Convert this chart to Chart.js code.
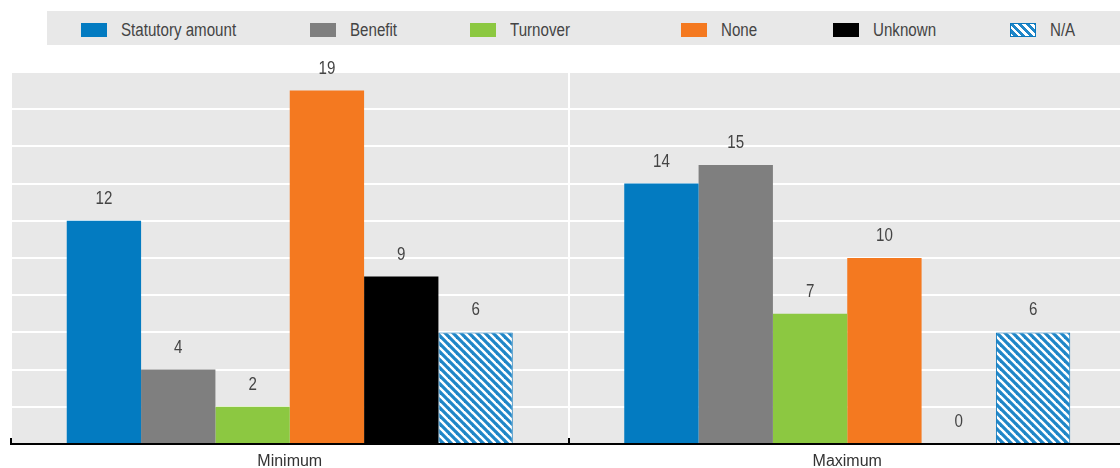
<!DOCTYPE html>
<html lang="en">
<head>
<meta charset="UTF-8">
<title>Minimum and maximum</title>
<script src="https://cdn.jsdelivr.net/npm/chart.js"></script>
<style>
    body {
        margin: 0;
        background: #ffffff;
        font-family: "Liberation Sans", Arial, sans-serif;
    }
    .wrap {
        position: relative;
        width: 1120px;
        height: 468px;
        overflow: hidden;
    }
    #chart {
        position: absolute;
        left: 0;
        top: 0;
    }
    #legend {
        position: absolute;
        left: 47px;
        top: 11px;
        width: 1073px;
        height: 34px;
        background: #e8e8e8;
    }
    .item {
        position: absolute;
        top: 23px;
        height: 14px;
        margin-top: -11px;
        display: flex;
        align-items: center;
        font-size: 18px;
        color: #444444;
        white-space: nowrap;
    }
    .item span.box {
        display: inline-block;
        width: 26px;
        height: 14px;
        margin-right: 14px;
        box-sizing: border-box;
    }
    .item span.txt {
        display: inline-block;
        transform: scaleX(0.84);
        transform-origin: left center;
    }
    /* legend item positions, relative to the grey band */
    .item:nth-child(1) { left: 34px; }
    .item:nth-child(2) { left: 263px; }
    .item:nth-child(3) { left: 423px; }
    .item:nth-child(4) { left: 634px; }
    .item:nth-child(5) { left: 786px; }
    .item:nth-child(6) { left: 963px; }
    .hatch {
        border: 1px solid #0a78be;
        background: repeating-linear-gradient(45deg, #ffffff 0 2px, #1f86c8 2px 5px, #ffffff 5px 5.6px);
    }
</style>
</head>
<body>
<div class="wrap">
    <!-- canvas is a little larger than the frame; the plot runs past the right edge -->
    <canvas id="chart" width="1132" height="480"></canvas>
    <div id="legend"></div>
</div>

<script>
    // categories and series values
    const categories = ['Minimum', 'Maximum'];
    const seriesNames = ['Statutory amount', 'Benefit', 'Turnover', 'None', 'Unknown', 'N/A'];
    const statutoryAmount = [12, 14];
    const benefit = [4, 15];
    const turnover = [2, 7];
    const none = [19, 10];
    const unknown = [9, 0];
    const notApplicable = [6, 6];

    const colors = ['#037bc1', '#7f7f7f', '#8cc841', '#f47920', '#000000'];

    // hatched fill for N/A
    function makeHatch() {
        const c = document.createElement('canvas');
        c.width = 8;
        c.height = 8;
        const g = c.getContext('2d');
        g.fillStyle = '#ffffff';
        g.fillRect(0, 0, 8, 8);
        g.strokeStyle = '#1f86c8';
        g.lineWidth = 3.2;
        [-8, 0, 8].forEach(k => {
            g.beginPath();
            g.moveTo(k - 1, -1);
            g.lineTo(k + 9, 9);
            g.stroke();
        });
        return document.getElementById('chart').getContext('2d').createPattern(c, 'repeat');
    }
    const hatch = makeHatch();

    const values = [statutoryAmount, benefit, turnover, none, unknown, notApplicable];
    const datasets = seriesNames.map((name, i) => ({
        label: name,
        data: values[i],
        backgroundColor: i < 5 ? colors[i] : hatch,
        borderColor: i < 5 ? colors[i] : '#0a78be',
        borderWidth: i < 5 ? 0 : 1,
        categoryPercentage: 0.8,
        barPercentage: 1.0
    }));

    // grey plot background
    const plotBg = {
        id: 'plotBg',
        beforeDraw(chart) {
            const { ctx, chartArea: a } = chart;
            ctx.save();
            ctx.fillStyle = '#e8e8e8';
            ctx.fillRect(a.left, a.top, a.right - a.left, a.bottom - a.top);
            ctx.restore();
        }
    };

    // value labels above the bars + small inner ticks on the x axis
    const valueLabels = {
        id: 'valueLabels',
        afterDatasetsDraw(chart) {
            const ctx = chart.ctx;
            ctx.save();
            ctx.font = '18px "Liberation Sans", Arial, sans-serif';
            ctx.fillStyle = '#444444';
            ctx.textAlign = 'center';
            ctx.textBaseline = 'middle';
            chart.data.datasets.forEach((ds, i) => {
                chart.getDatasetMeta(i).data.forEach((bar, j) => {
                    ctx.save();
                    ctx.translate(bar.x, bar.y - 22);
                    ctx.scale(0.84, 1);
                    ctx.fillText(String(ds.data[j]), 0, 0);
                    ctx.restore();
                });
            });
            const x = chart.scales.x;
            const half = (x.getPixelForValue(1) - x.getPixelForValue(0)) / 2;
            ctx.strokeStyle = '#000000';
            ctx.lineWidth = 2;
            categories.forEach((c, j) => {
                const px = Math.round(x.getPixelForValue(j) - half);
                ctx.beginPath();
                ctx.moveTo(px, chart.chartArea.bottom);
                ctx.lineTo(px, chart.chartArea.bottom - 6);
                ctx.stroke();
            });
            ctx.restore();
        }
    };

    const chart = new Chart(document.getElementById('chart'), {
        type: 'bar',
        data: { labels: categories, datasets: datasets },
        options: {
            responsive: false,
            animation: false,
            layout: { padding: { top: 72, left: 11, right: 6, bottom: 0 } },
            plugins: {
                legend: { display: false },
                tooltip: { enabled: false }
            },
            scales: {
                x: {
                    grid: {
                        offset: true,
                        color: '#ffffff',
                        lineWidth: 2,
                        drawTicks: false
                    },
                    border: { display: true, color: '#000000', width: 2 },
                    ticks: {
                        padding: 10,
                        color: '#333333',
                        font: { family: '"Liberation Sans", Arial, sans-serif', size: 16, lineHeight: 1 }
                    }
                },
                y: {
                    min: 0,
                    max: 20,
                    ticks: { display: false, stepSize: 2 },
                    grid: { color: '#ffffff', lineWidth: 2, drawTicks: false },
                    border: { display: false }
                }
            }
        },
        plugins: [plotBg, valueLabels]
    });

    // HTML legend built from the chart datasets
    const legend = document.getElementById('legend');
    chart.data.datasets.forEach((ds, i) => {
        const item = document.createElement('div');
        item.className = 'item';
        const box = document.createElement('span');
        box.className = 'box' + (i === 5 ? ' hatch' : '');
        if (i < 5) box.style.background = colors[i];
        const txt = document.createElement('span');
        txt.className = 'txt';
        txt.textContent = ds.label;
        item.appendChild(box);
        item.appendChild(txt);
        legend.appendChild(item);
    });
</script>
</body>
</html>
